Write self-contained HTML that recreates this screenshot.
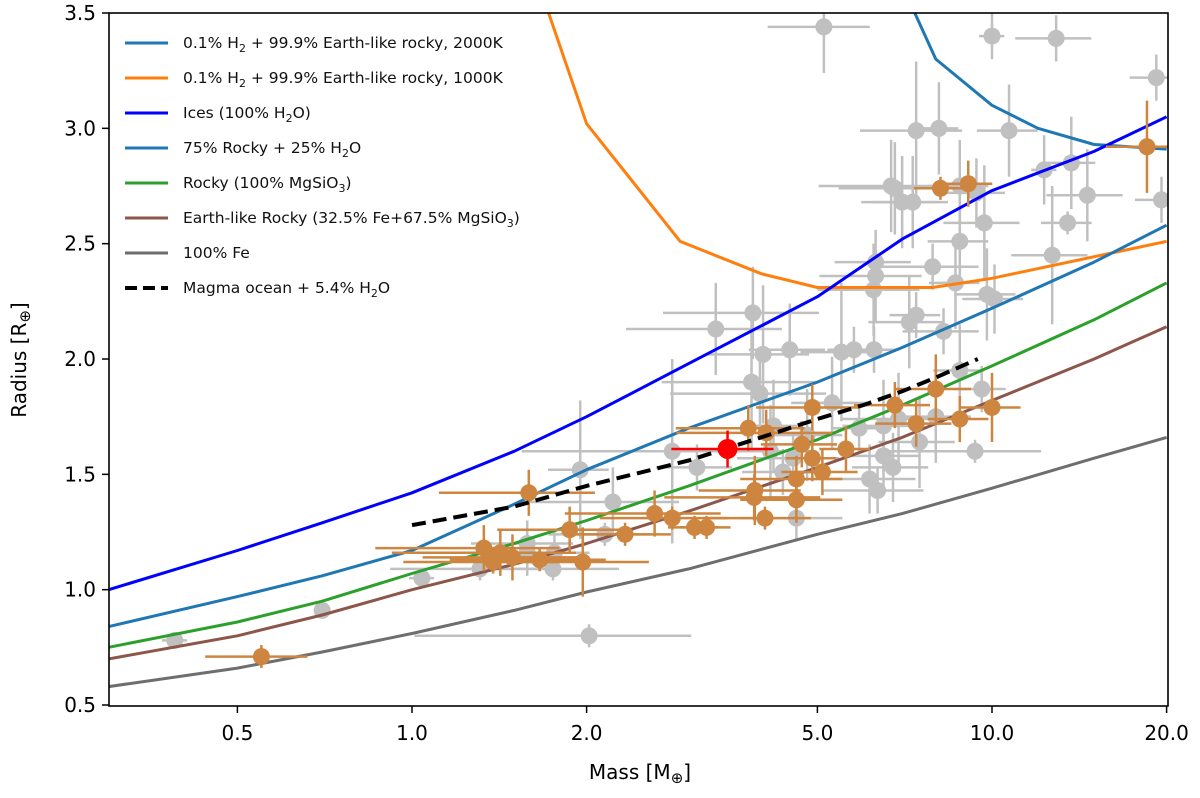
<!DOCTYPE html>
<html><head><meta charset="utf-8"><style>
body{margin:0;background:#fff}
svg{display:block;font-family:"DejaVu Sans","Liberation Sans",sans-serif}
</style></head><body>
<svg id="chart" width="1200" height="798" viewBox="0 0 1200 798">
<defs><clipPath id="clip"><rect x="109" y="13" width="1059" height="693"/></clipPath></defs>
<g id="plot" clip-path="url(#clip)"></g>
<rect x="109" y="13" width="1059" height="693" fill="none" stroke="#000" stroke-width="1.6"/>
<g id="axes"></g>
<g id="legend"></g>
<text x="640" y="779" text-anchor="middle" font-size="20">Mass [M<tspan font-size="15" dy="4">⊕</tspan><tspan dy="-4">]</tspan></text>
<text transform="translate(26,360) rotate(-90)" text-anchor="middle" font-size="20">Radius [R<tspan font-size="15" dy="4">⊕</tspan><tspan dy="-4">]</tspan></text>
</svg>
<script>
const xTicks=[0.5,1.0,2.0,5.0,10.0,20.0];
const yTicks=[0.5,1.0,1.5,2.0,2.5,3.0,3.5];
const modelM=[0.3,0.5,0.7,1,1.5,2,3,5,7,10,15,20];
const icesR=[1.0,1.17,1.29,1.42,1.60,1.75,1.98,2.27,2.52,2.73,2.90,3.05];
const rock75R=[0.84,0.97,1.06,1.17,1.37,1.52,1.70,1.90,2.05,2.22,2.42,2.58];
const mgsiR=[0.75,0.86,0.95,1.07,1.20,1.30,1.45,1.65,1.80,1.97,2.17,2.33];
const earthR=[0.70,0.80,0.89,1.0,1.11,1.20,1.34,1.53,1.66,1.82,2.0,2.14];
const feR=[0.58,0.66,0.73,0.81,0.91,0.99,1.09,1.24,1.33,1.44,1.57,1.66];
const magmaM=[1,1.5,2,3,4,5,6,7,8,9.45];
const magmaR=[1.28,1.36,1.45,1.56,1.66,1.74,1.8,1.86,1.92,2.0];
const h1000M=[1.72,2.0,2.9,4.0,5.0,7.9,10,20];
const h1000R=[3.5,3.02,2.51,2.37,2.31,2.31,2.35,2.51];
const h2000M=[7.36,8,10,12,15,20];
const h2000R=[3.5,3.30,3.10,3.0,2.93,2.91];
const greyM=[5.13,10,12.9,19.2,7.4,8.1,10.7,12.3,13.7,14.6,6.7,6.8,7.0,7.3,8.8,9.4,19.6,9.7,8.8,13.5,12.7,6.3,7.9,6.3,6.25,8.65,9.8,10.1,7.2,7.4,8.25,3.34,3.87,4.03,4.48,5.5,5.78,6.26,3.85,3.98,5.3,8.8,9.6,4.2,4.8,5.9,6.5,6.9,8.0,7.5,9.35,4.15,4.54,3.1,4.36,6.5,6.75,6.15,6.35,1.95,2.22,2.81,4.6,2.15,1.58,1.76,1.58,1.75,1.31,1.04,0.7,0.39,2.02];
const greyR=[3.44,3.40,3.39,3.22,2.99,3.0,2.99,2.82,2.85,2.71,2.75,2.74,2.68,2.68,2.75,2.72,2.69,2.59,2.51,2.59,2.45,2.42,2.40,2.36,2.30,2.33,2.28,2.26,2.16,2.19,2.12,2.13,2.20,2.02,2.04,2.03,2.04,2.04,1.90,1.85,1.81,1.95,1.87,1.71,1.67,1.70,1.71,1.74,1.75,1.64,1.60,1.60,1.57,1.53,1.51,1.58,1.53,1.48,1.43,1.52,1.38,1.60,1.31,1.24,1.20,1.16,1.16,1.09,1.09,1.05,0.91,0.78,0.80];
const greyMe=[.2,.05,.15,.1,.2,.08,.12,.05,.1,.15,.25,.2,.15,.15,.12,.12,.1,.15,.12,.1,.15,.15,.2,.2,.2,.1,.12,.12,.15,.1,.15,.3,.3,.2,.15,.15,.1,.1,.3,.3,.15,.1,.1,.1,.15,.1,.15,.2,.15,.15,.3,.2,.2,.15,.15,.15,.15,.2,.2,.12,.3,.45,.2,.2,.2,.15,.2,.3,.3,.05,.03,.05,.5];
const greyRe=[.2,.1,.1,.1,.3,.2,.2,.15,.2,.2,.2,.2,.2,.2,.2,.15,.1,.25,.15,.05,.3,.05,.1,.2,.2,.2,.2,.15,.2,.1,.1,.2,.2,.3,.2,.3,.1,.1,.3,.2,.2,.2,.1,.2,.2,.1,.2,.2,.2,.2,.05,.2,.1,.1,.1,.15,.15,.15,.1,.3,.15,.4,.1,.05,.1,.1,.1,.05,.05,.02,.02,.02,.05];
const orM=[3.8,4.08,4.9,6.8,8.0,10,7.4,8.8,4.7,4.9,5.6,5.1,4.6,3.9,3.89,4.6,1.59,1.87,2.33,2.62,2.81,3.07,3.22,4.06,1.33,1.42,1.49,1.38,1.66,1.97,0.55,8.15,9.1,18.5];
const orR=[1.70,1.68,1.79,1.80,1.87,1.79,1.72,1.74,1.63,1.57,1.61,1.51,1.48,1.43,1.40,1.39,1.42,1.26,1.24,1.33,1.31,1.27,1.27,1.31,1.18,1.16,1.14,1.12,1.13,1.12,0.71,2.74,2.76,2.92];
const orMe=[.25,.3,.2,.15,.15,.12,.15,.12,.15,.1,.1,.15,.2,.2,.3,.2,.3,.25,.2,.3,.25,.1,.1,.2,.35,.35,.3,.3,.3,.3,.2,.1,.1,.15];
const orRe=[.1,.1,.1,.1,.15,.15,.1,.1,.1,.1,.1,.1,.1,.15,.1,.1,.1,.1,.05,.1,.05,.05,.05,.05,.1,.1,.1,.05,.05,.15,.05,.05,.1,.2];
const redM=[3.5], redR=[1.61], redMe=[.2], redRe=[.08];

const X=m=>412+580*Math.log10(m);
const Y=r=>13+(3.5-r)*230.67;
const NS='http://www.w3.org/2000/svg';
function mk(tag,attrs,parent){const e=document.createElementNS(NS,tag);for(const k in attrs)e.setAttribute(k,attrs[k]);parent.appendChild(e);return e;}
const plot=document.getElementById('plot'),axes=document.getElementById('axes'),leg=document.getElementById('legend');

function curve(M,R,color,name,dash){
  const pts=M.map((m,i)=>X(m).toFixed(1)+','+Y(R[i]).toFixed(1)).join(' ');
  const p=mk('polyline',{points:pts,fill:'none',stroke:color,'stroke-width':dash?4:3,'stroke-linejoin':'round'},plot);
  if(dash)p.setAttribute('stroke-dasharray','14,7');
  
  
}
function points(M,R,Me,Re,color,name,size){
  const g=mk('g',{},plot);
  
  
  M.forEach((m,i)=>{
    const pg=mk('g',{stroke:color,'stroke-width':2.5},g);
    
    
    mk('line',{x1:X(m*(1-Me[i])),x2:X(m*(1+Me[i])),y1:Y(R[i]),y2:Y(R[i])},pg);
    mk('line',{x1:X(m),x2:X(m),y1:Y(R[i]-Re[i]),y2:Y(R[i]+Re[i])},pg);
    mk('circle',{cx:X(m),cy:Y(R[i]),r:size,fill:color,stroke:'none'},pg);
  });
}
points(greyM,greyR,greyMe,greyRe,'#c0c0c0','grey-planet',8.5);
curve(h2000M,h2000R,'#1f77b4','h2-2000k-line');
curve(h1000M,h1000R,'#ff7f0e','h2-1000k-line');
curve(modelM,icesR,'#0000ff','ices-line');
curve(modelM,rock75R,'#1f77b4','rocky75-water25-line');
curve(modelM,mgsiR,'#2ca02c','mgsio3-line');
curve(modelM,earthR,'#8c564b','earth-like-line');
curve(modelM,feR,'#6e6e6e','iron-line');
points(orM,orR,orMe,orRe,'#cd853f','orange-planet',8.5);
curve(magmaM,magmaR,'#000','magma-ocean-line',true);
points(redM,redR,redMe,redRe,'#ff0000','highlight-planet',10);

xTicks.forEach(t=>{
  const l=mk('line',{x1:X(t),x2:X(t),y1:706,y2:713,stroke:'#000','stroke-width':1.5},axes);
  
  
  const tx=mk('text',{x:X(t),y:740,'text-anchor':'middle','font-size':20},axes);
  tx.textContent=t.toFixed(1);
  
  
});
yTicks.forEach(t=>{
  const l=mk('line',{x1:102,x2:109,y1:Y(t),y2:Y(t),stroke:'#000','stroke-width':1.5},axes);
  
  
  const tx=mk('text',{x:96,y:Y(t)+7,'text-anchor':'end','font-size':20},axes);
  tx.textContent=t.toFixed(1);
  
  
});

const legItems=[
 ['#1f77b4','0.1% H<tspan font-size="11" dy="4">2</tspan><tspan dy="-4"> + 99.9% Earth-like rocky, 2000K</tspan>'],
 ['#ff7f0e','0.1% H<tspan font-size="11" dy="4">2</tspan><tspan dy="-4"> + 99.9% Earth-like rocky, 1000K</tspan>'],
 ['#0000ff','Ices (100% H<tspan font-size="11" dy="4">2</tspan><tspan dy="-4">O)</tspan>'],
 ['#1f77b4','75% Rocky + 25% H<tspan font-size="11" dy="4">2</tspan><tspan dy="-4">O</tspan>'],
 ['#2ca02c','Rocky (100% MgSiO<tspan font-size="11" dy="4">3</tspan><tspan dy="-4">)</tspan>'],
 ['#8c564b','Earth-like Rocky (32.5% Fe+67.5% MgSiO<tspan font-size="11" dy="4">3</tspan><tspan dy="-4">)</tspan>'],
 ['#6e6e6e','100% Fe'],
 ['#000','Magma ocean + 5.4% H<tspan font-size="11" dy="4">2</tspan><tspan dy="-4">O</tspan>']
];
legItems.forEach((it,i)=>{
  const y=43+i*35;
  const g=mk('g',{},leg);
  
  
  const l=mk('line',{x1:125,x2:168,y1:y,y2:y,stroke:it[0],'stroke-width':3},g);
  if(i===7){l.setAttribute('stroke-dasharray','12,6');l.setAttribute('stroke-width',4);}
  const t=mk('text',{x:183,y:y+5,'font-size':15.5,fill:'#111'},g);
  t.innerHTML=it[1];
});
</script>
</body></html>
